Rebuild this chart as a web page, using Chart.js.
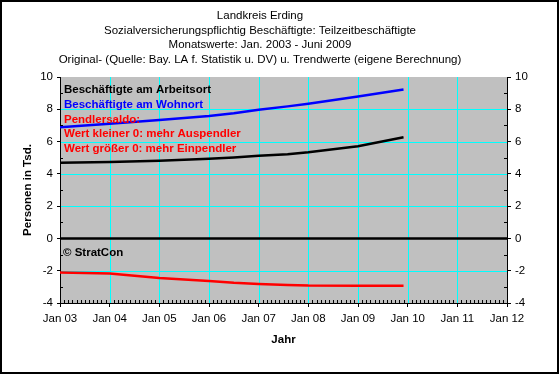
<!DOCTYPE html>
<html>
<head>
<meta charset="utf-8">
<script src="https://cdn.jsdelivr.net/npm/chart.js@4/dist/chart.umd.min.js"></script>
<style>
    body { margin: 0; background: #fff; }
    #wrap { width: 560px; height: 374px; position: relative; }
</style>
</head>
<body>
<div id="wrap"><canvas id="chart"></canvas></div>
<script>
// months since Jan 2003
const months = [0, 12, 24, 36, 42, 48, 55, 60, 72, 83];
const wohnort = [6.88, 7.1, 7.33, 7.58, 7.75, 7.97, 8.18, 8.34, 8.79, 9.22];
const arbeitsort = [4.69, 4.73, 4.81, 4.93, 5.02, 5.12, 5.22, 5.34, 5.71, 6.27];
const saldo = [-2.11, -2.17, -2.45, -2.64, -2.75, -2.82, -2.88, -2.92, -2.93, -2.93];
const zeroMonths = [0, 108];
const zeroValues = [0, 0];

const xTicks = ["Jan 03", "Jan 04", "Jan 05", "Jan 06", "Jan 07", "Jan 08", "Jan 09", "Jan 10", "Jan 11", "Jan 12"];
const yTicks = [-4, -2, 0, 2, 4, 6, 8, 10];
const titleLines = [
    "Landkreis Erding",
    "Sozialversicherungspflichtig Beschäftigte: Teilzeitbeschäftigte",
    "Monatswerte: Jan. 2003 - Juni 2009",
    "Original- (Quelle: Bay. LA f. Statistik u. DV) u. Trendwerte (eigene Berechnung)"
];
const notes = [
    ["Beschäftigte am Arbeitsort", "#000000"],
    ["Beschäftigte am Wohnort", "#0000ff"],
    ["Pendlersaldo:", "#ff0000"],
    ["Wert kleiner 0: mehr Auspendler", "#ff0000"],
    ["Wert größer 0: mehr Einpendler", "#ff0000"]
];

const FONT = "'Liberation Sans', Arial, sans-serif";

const toPoints = (xs, ys) => xs.map((x, i) => ({ x: x, y: ys[i] }));

const decor = {
    id: "decor",
    beforeDatasetsDraw(chart) {
        const { ctx, chartArea: a, scales } = chart;
        ctx.save();
        ctx.fillStyle = "#c0c0c0";
        ctx.fillRect(a.left, a.top, a.right - a.left, a.bottom - a.top);
        // cyan grid
        ctx.fillStyle = "#00ffff";
        xTicks.forEach((_, i) => {
            const px = Math.round(scales.x.getPixelForValue(i * 12));
            ctx.fillRect(px, a.top, 1, a.bottom - a.top);
        });
        yTicks.forEach((v) => {
            if (v === 10) return;
            const py = Math.round(scales.y.getPixelForValue(v));
            ctx.fillRect(a.left, py, a.right - a.left, 1);
        });
        // axis lines
        ctx.fillStyle = "#000";
        ctx.fillRect(a.left, a.top, 1, a.bottom - a.top + 1);
        ctx.fillRect(Math.round(a.right), a.top, 1, a.bottom - a.top + 1);
        ctx.fillRect(a.left, Math.round(a.bottom), a.right - a.left + 1, 1);
        ctx.restore();
    },
    afterDatasetsDraw(chart) {
        const { ctx, chartArea: a, scales } = chart;
        ctx.save();
        // minor ticks
        ctx.strokeStyle = "#000";
        ctx.lineWidth = 1;
        ctx.beginPath();
        for (let m = 1; m < 108; m++) {
            if (m % 12 === 0) continue;
            const px = Math.round(scales.x.getPixelForValue(m)) + 0.5;
            ctx.moveTo(px, a.bottom);
            ctx.lineTo(px, a.bottom - 3);
        }
        for (let v = -3; v < 10; v += 2) {
            const py = Math.round(scales.y.getPixelForValue(v)) + 0.5;
            ctx.moveTo(a.left, py);
            ctx.lineTo(a.left + 3, py);
            ctx.moveTo(a.right, py);
            ctx.lineTo(a.right - 3, py);
        }
        ctx.stroke();

        // notes inside the plot
        ctx.font = "bold 11.5px " + FONT;
        ctx.textAlign = "left";
        ctx.textBaseline = "alphabetic";
        notes.forEach((n, i) => {
            ctx.fillStyle = n[1];
            ctx.fillText(n[0], a.left + 4, a.top + 16 + i * 14.8);
        });
        ctx.fillStyle = "#000";
        ctx.fillText("© StratCon", a.left + 3, 256);
        ctx.restore();
    },
    afterDraw(chart) {
        const { ctx } = chart;
        ctx.save();
        ctx.fillStyle = "#000";
        ctx.font = "11.5px " + FONT;
        ctx.textAlign = "center";
        titleLines.forEach((t, i) => {
            ctx.fillText(t, 260, 19 + i * 14.7);
        });
        ctx.strokeStyle = "#000";
        ctx.lineWidth = 2;
        ctx.strokeRect(1, 1, 557, 372);
        ctx.restore();
    }
};

new Chart(document.getElementById("chart"), {
    type: "line",
    data: {
        datasets: [
            {
                label: "Null",
                data: toPoints(zeroMonths, zeroValues),
                borderColor: "#000",
                borderWidth: 2.5,
                pointRadius: 0
            },
            {
                label: "Beschäftigte am Wohnort",
                data: toPoints(months, wohnort),
                borderColor: "#0000ff",
                borderWidth: 2.5,
                pointRadius: 0
            },
            {
                label: "Beschäftigte am Arbeitsort",
                data: toPoints(months, arbeitsort),
                borderColor: "#000",
                borderWidth: 2.5,
                pointRadius: 0
            },
            {
                label: "Pendlersaldo",
                data: toPoints(months, saldo),
                borderColor: "#ff0000",
                borderWidth: 2.5,
                pointRadius: 0
            }
        ]
    },
    options: {
        responsive: true,
        maintainAspectRatio: false,
        animation: false,
        layout: { padding: { left: 17, top: 77, right: 0, bottom: 23 } },
        plugins: {
            legend: { display: false },
            tooltip: { enabled: false }
        },
        scales: {
            x: {
                type: "linear",
                min: 0,
                max: 108,
                afterFit: (s) => { s.height = 48; },
                afterBuildTicks: (s) => { s.ticks = xTicks.map((_, i) => ({ value: i * 12 })); },
                ticks: {
                    autoSkip: false,
                    maxRotation: 0,
                    padding: 5,
                    color: "#000",
                    font: { family: FONT, size: 11.5 },
                    callback: (v) => xTicks[v / 12]
                },
                grid: {
                    drawOnChartArea: false,
                    tickColor: "#000",
                    tickLength: 4
                },
                border: { display: false },
                title: {
                    display: true,
                    text: "Jahr",
                    color: "#000",
                    font: { family: FONT, size: 11.5, weight: "bold" },
                    padding: { top: 4, bottom: 4 }
                }
            },
            y: {
                position: "left",
                min: -4,
                max: 10,
                afterFit: (s) => { s.width = 43; },
                ticks: {
                    stepSize: 2,
                    padding: 4,
                    color: "#000",
                    font: { family: FONT, size: 11.5 }
                },
                grid: {
                    drawOnChartArea: false,
                    tickColor: "#000",
                    tickLength: 3
                },
                border: { display: false },
                title: {
                    display: true,
                    text: "Personen in Tsd.",
                    color: "#000",
                    font: { family: FONT, size: 11.5, weight: "bold" },
                    padding: { top: 4, bottom: 4 }
                }
            },
            y2: {
                position: "right",
                min: -4,
                max: 10,
                afterFit: (s) => { s.width = 53; },
                ticks: {
                    stepSize: 2,
                    padding: 4,
                    color: "#000",
                    font: { family: FONT, size: 11.5 }
                },
                grid: {
                    drawOnChartArea: false,
                    tickColor: "#000",
                    tickLength: 4
                },
                border: { display: false }
            }
        }
    },
    plugins: [decor]
});
</script>
</body>
</html>
